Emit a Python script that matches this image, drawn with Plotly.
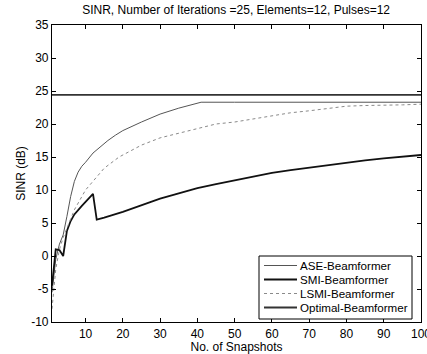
import plotly.graph_objects as go

# ---- data ----
x_ase = [1, 2, 3, 4, 5, 6, 7, 8, 9, 10, 12, 14, 16, 18, 20, 25, 30, 35, 41, 50, 60, 70, 80, 90, 100]
y_ase = [-5.5, -0.5, 1.8, 3.2, 6.0, 9.0, 11.3, 12.7, 13.6, 14.2, 15.6, 16.6, 17.5, 18.3, 19.0, 20.3, 21.5, 22.4, 23.3, 23.3, 23.3, 23.3, 23.3, 23.3, 23.3]

x_smi = [1, 2, 3, 4, 5, 6, 7, 8, 9, 10, 11, 12, 13, 14, 15, 20, 25, 30, 35, 40, 45, 50, 55, 60, 65, 70, 75, 80, 85, 90, 95, 100]
y_smi = [-4.5, 1.0, 0.9, 0.0, 3.8, 5.3, 6.3, 7.0, 7.6, 8.2, 8.8, 9.4, 5.5, 5.6, 5.8, 6.7, 7.7, 8.7, 9.5, 10.3, 10.9, 11.5, 12.0, 12.6, 13.0, 13.4, 13.8, 14.1, 14.5, 14.8, 15.1, 15.3]

x_lsmi = [1, 2, 3, 4, 5, 7, 10, 15, 19, 25, 30, 35, 40, 45, 50, 55, 60, 65, 70, 75, 80, 85, 90, 95, 100]
y_lsmi = [-8.0, -2.0, 1.0, 2.8, 4.2, 7.0, 10.0, 13.3, 15.0, 16.8, 17.9, 18.6, 19.3, 20.0, 20.3, 20.8, 21.3, 21.7, 22.0, 22.4, 22.7, 22.8, 22.8, 22.9, 23.0]

x_opt = [1, 100]
y_opt = [24.4, 24.4]

series_names = ["ASE-Beamformer", "SMI-Beamformer", "LSMI-Beamformer", "Optimal-Beamformer"]
x_ticks = [10, 20, 30, 40, 50, 60, 70, 80, 90, 100]
y_ticks = [-10, -5, 0, 5, 10, 15, 20, 25, 30, 35]

title_text = "SINR, Number of Iterations =25, Elements=12, Pulses=12"
x_title = "No. of Snapshots"
y_title = "SINR (dB)"

FONT = "Liberation Sans, Arial, Helvetica, sans-serif"

styles = [
    dict(color="#555555", width=1),
    dict(color="#111111", width=1.8),
    dict(color="#8a8a8a", width=1, dash="dot"),
    dict(color="#333333", width=1.8),
]

fig = go.Figure()
for xs, ys, nm, st in zip([x_ase, x_smi, x_lsmi, x_opt], [y_ase, y_smi, y_lsmi, y_opt], series_names, styles):
    fig.add_trace(go.Scatter(x=xs, y=ys, mode="lines", name=nm, line=st, showlegend=False))

axis_common = dict(
    showline=True, linecolor="black", linewidth=1.2, mirror="ticks",
    ticks="inside", ticklen=4, tickcolor="black", tickwidth=1,
    showgrid=False, zeroline=False, ticklabeloverflow="allow", automargin=False,
    tickfont=dict(family=FONT, size=12, color="black"),
)

fig.update_xaxes(range=[1, 100], tickvals=x_ticks, ticktext=[str(v) for v in x_ticks],
                 title=dict(text=x_title, font=dict(family=FONT, size=12, color="black"), standoff=2),
                 **axis_common)
fig.update_yaxes(range=[-10, 35], tickvals=y_ticks, ticktext=[str(v) for v in y_ticks],
                 title=dict(text=y_title, font=dict(family=FONT, size=12, color="black"), standoff=2),
                 **axis_common)

# ---- manual compact legend (MATLAB style), positions in plot-area pixels ----
L, R, T, B = 52, 421, 25, 322
def px(xp):
    return (xp - L) / (R - L)
def py(yp):
    return (B - yp) / (B - T)

shapes = [dict(type="rect", xref="paper", yref="paper",
               x0=px(259), x1=px(412), y0=py(319), y1=py(256),
               line=dict(color="black", width=1), fillcolor="white", layer="above")]
annotations = []
row_y = [265.5, 279.5, 293.5, 307.5]
for nm, st, yy in zip(series_names, styles, row_y):
    shapes.append(dict(type="line", xref="paper", yref="paper",
                       x0=px(264), x1=px(297), y0=py(yy), y1=py(yy),
                       line=st, layer="above"))
    annotations.append(dict(xref="paper", yref="paper", x=px(298), y=py(yy),
                            xanchor="left", yanchor="middle", text=nm, showarrow=False,
                            font=dict(family=FONT, size=11.6, color="black")))

fig.update_layout(
    width=427, height=354,
    margin=dict(l=52, r=6, t=25, b=32, autoexpand=False),
    paper_bgcolor="white", plot_bgcolor="white",
    title=dict(text=title_text, x=0.553, xanchor="center", y=0.985, yanchor="top",
               font=dict(family=FONT, size=12, color="black")),
    font=dict(family=FONT, size=12, color="black"),
    showlegend=False,
    shapes=shapes,
    annotations=annotations,
)

fig.write_html("out.html")
